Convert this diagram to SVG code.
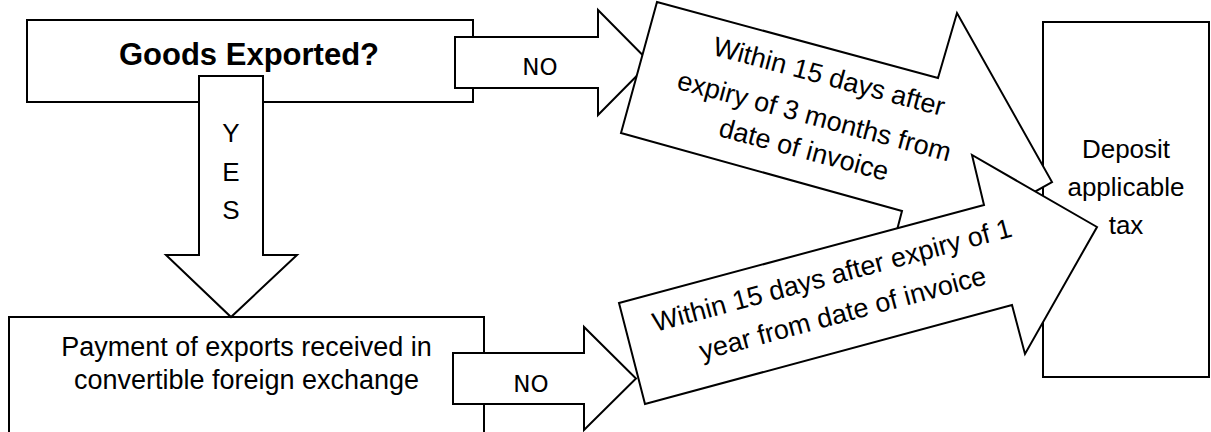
<svg xmlns="http://www.w3.org/2000/svg" width="1211" height="432" viewBox="0 0 1211 432">
<style>
.shape{fill:#fff;stroke:#000;stroke-width:2;stroke-linejoin:miter}
.t{font-family:"Liberation Sans",Arial,sans-serif;font-size:27px;fill:#000;text-anchor:middle}
.no{font-family:"DejaVu Sans",Verdana,sans-serif;font-size:23px;fill:#000;text-anchor:middle}
</style>
<rect width="1211" height="432" fill="#fff"/>
<g id="node-goods-exported">
<rect class="shape" x="27" y="20" width="446" height="82"/>
<text class="t" x="249" y="65" style="font-weight:bold;font-size:31px">Goods Exported?</text>
</g>
<g id="node-payment">
<rect class="shape" x="9" y="317" width="475" height="130"/>
<text class="t" x="246.5" y="356">Payment of exports received in</text>
<text class="t" x="246.5" y="389">convertible foreign exchange</text>
</g>
<g id="node-deposit">
<rect class="shape" x="1043" y="22" width="166" height="355"/>
<text class="t" x="1126" y="158" style="font-size:26px">Deposit</text>
<text class="t" x="1126" y="196" style="font-size:26px">applicable</text>
<text class="t" x="1126" y="234" style="font-size:26px">tax</text>
</g>
<g id="connectors">
<g id="arrow-yes">
<polygon class="shape" points="199,76 263,76 263,255 297,255 231,317 166,255 199,255"/>
<text class="t" x="231" y="142" style="font-size:26px">Y</text>
<text class="t" x="231" y="180.5" style="font-size:26px">E</text>
<text class="t" x="231" y="219" style="font-size:26px">S</text>
</g>
<g id="arrow-no-1">
<polygon class="shape" points="455,37 598,37 598,10 650,62.5 598,115 598,88 455,88"/>
<text class="no" x="540" y="75">NO</text>
</g>
<g id="arrow-no-2">
<polygon class="shape" points="453,353 584,353 584,327 636,378.5 584,430 584,404 453,404"/>
<text class="no" x="531" y="392">NO</text>
</g>
<g id="arrow-3-months">
<polygon class="shape" points="657,2 938,78 957,13 1052,182 885,276 902,211 621,133"/>
<text class="t" transform="translate(826.7,85.3) rotate(15)">Within 15 days after</text>
<text class="t" transform="translate(812,125) rotate(15)">expiry of 3 months from</text>
<text class="t" transform="translate(801.7,158.3) rotate(15)">date of invoice</text>
</g>
<g id="arrow-1-year">
<polygon class="shape" points="619,303 984,205 972,155 1097,227 1025,354 1012,305 645,404"/>
<text class="t" transform="translate(834.5,284) rotate(-15)">Within 15 days after expiry of 1</text>
<text class="t" transform="translate(845,322) rotate(-15)">year from date of invoice</text>
</g>
</g>
</svg>
